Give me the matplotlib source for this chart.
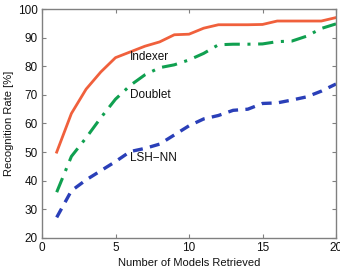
import matplotlib
matplotlib.use("Agg")
import matplotlib.pyplot as plt

x = list(range(1, 21))
indexer = [50, 63.5, 72, 78, 83, 85, 87, 88.5, 91, 91.2, 93.3, 94.5, 94.5, 94.5, 94.6, 95.8, 95.8, 95.8, 95.8, 97]
doublet = [36, 48.5, 55, 62, 68.5, 73.3, 77, 79.5, 80.5, 82.2, 84.5, 87.5, 87.7, 87.7, 87.8, 88.6, 88.8, 90.5, 93.2, 94.8]
lshnn = [27.2, 36.5, 40.3, 43.5, 46.7, 50.2, 51.3, 52.8, 56, 59.2, 61.6, 62.8, 64.6, 65, 67, 67.2, 68.2, 69.3, 71.3, 73.8]
labels = ["Indexer", "Doublet", "LSH\u2212NN"]
label_y = [83.1, 70, 47.8]

plt.rcParams['font.family'] = ['Liberation Sans', 'DejaVu Sans']
fig = plt.figure(figsize=(3.4, 2.72), dpi=100)
ax = fig.add_axes([42/340, 1-238/272, (336-42)/340, (238-9)/272])

ax.plot(x, indexer, color='#f0603c', lw=2.0, ls='-')
ax.plot(x, doublet, color='#10a050', lw=2.2, ls=(0, (5, 2.5, 1, 2.5)))
ax.plot(x, lshnn, color='#2a3fb8', lw=2.4, ls=(0, (3, 2.2)))

for lab, ly in zip(labels, label_y):
    ax.text(6.0, ly, lab, fontsize=8.5, color='#111111', va='center', ha='left')

ax.set_xlim(0, 20)
ax.set_ylim(20, 100)
ax.set_xticks([0, 5, 10, 15, 20])
ax.set_yticks(range(20, 101, 10))
ax.tick_params(direction='in', top=True, right=True, labelsize=8.5, length=3,
               color='#808080', labelcolor='#111111', pad=3)
for s in ax.spines.values():
    s.set_color('#808080')
    s.set_linewidth(1.0)
ax.set_xlabel('Number of Models Retrieved', fontsize=8, color='#111111', labelpad=3)
ax.set_ylabel('Recognition Rate [%]', fontsize=8, color='#111111', labelpad=3)

fig.savefig('out.png', dpi=100)
